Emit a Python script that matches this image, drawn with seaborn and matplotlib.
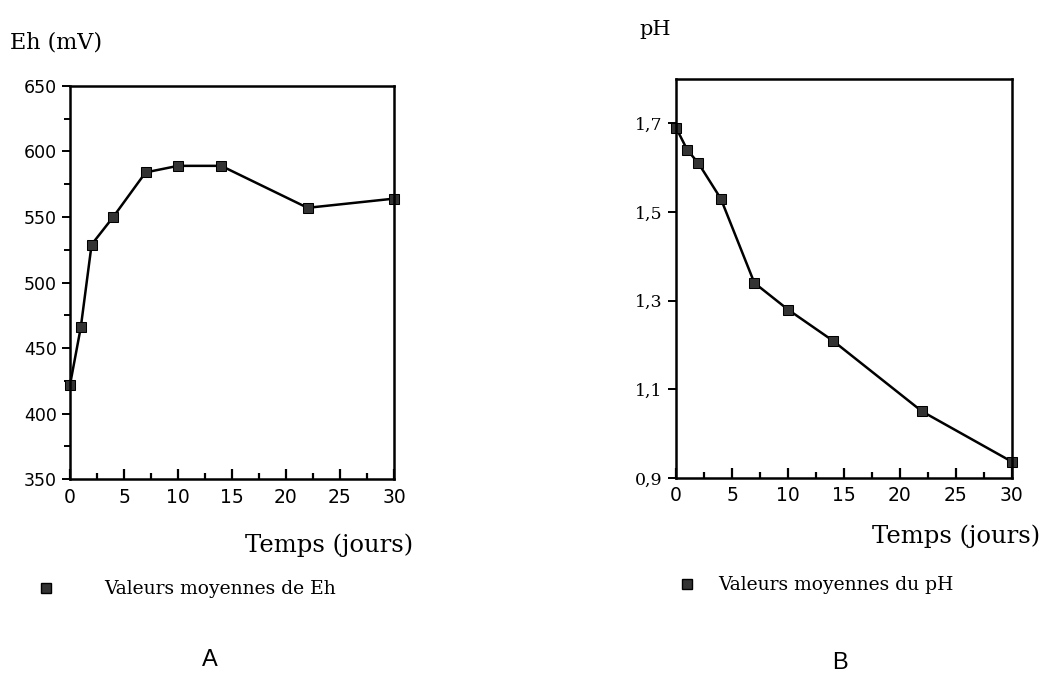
import numpy as np
import pandas as pd
import matplotlib
matplotlib.use("Agg")
import matplotlib.pyplot as plt
from matplotlib.lines import Line2D
from matplotlib.ticker import MultipleLocator, FuncFormatter
import seaborn as sns

# data
jours = [0, 1, 2, 4, 7, 10, 14, 22, 30]
eh_mv = [422, 466, 529, 550, 584, 589, 589, 557, 564]
ph = [1.69, 1.64, 1.61, 1.53, 1.34, 1.28, 1.21, 1.05, 0.937]

eh_ticks = [350, 400, 450, 500, 550, 600, 650]
ph_ticks = [0.9, 1.1, 1.3, 1.5, 1.7]
x_ticks = [0, 5, 10, 15, 20, 25, 30]

df_eh = pd.DataFrame({"jours": jours, "eh": eh_mv})
df_ph = pd.DataFrame({"jours": jours, "ph": ph})

sns.set_style("ticks")
plt.rcParams["font.family"] = ["DejaVu Serif", "Liberation Serif"]
plt.rcParams["text.color"] = "black"
plt.rcParams["xtick.color"] = "black"
plt.rcParams["ytick.color"] = "black"
plt.rcParams["xtick.labelcolor"] = "black"
plt.rcParams["ytick.labelcolor"] = "black"

fig = plt.figure(figsize=(10.45, 6.76), dpi=100)
ax1 = fig.add_axes([0.067, 0.291, 0.310, 0.582])
ax2 = fig.add_axes([0.647, 0.293, 0.321, 0.590])

line_kw = dict(color="black", linewidth=1.8, marker="s", markersize=7,
               markerfacecolor="#333333", markeredgecolor="black", clip_on=False)

sns.lineplot(data=df_eh, x="jours", y="eh", ax=ax1, **line_kw)
sns.lineplot(data=df_ph, x="jours", y="ph", ax=ax2, **line_kw)

for ax in (ax1, ax2):
    ax.set_xlim(0, 30)
    ax.set_xticks(x_ticks)
    ax.xaxis.set_minor_locator(MultipleLocator(2.5))
    ax.tick_params(axis="x", which="major", direction="in", length=7, width=1.6, pad=6)
    ax.tick_params(axis="x", which="minor", direction="in", length=4, width=1.6)
    ax.tick_params(axis="y", which="major", direction="out", length=6, width=1.4)
    ax.set_xlabel("")
    ax.set_ylabel("")
    for s in ax.spines.values():
        s.set_linewidth(1.8)
        s.set_color("black")
    for lab in ax.get_xticklabels():
        lab.set_fontfamily("DejaVu Sans")
        lab.set_fontsize(13.5)

ax1.set_ylim(350, 650)
ax1.set_yticks(eh_ticks)
ax1.yaxis.set_minor_locator(MultipleLocator(25))
ax1.tick_params(axis="y", which="minor", direction="out", length=4, width=1.4)
for lab in ax1.get_yticklabels():
    lab.set_fontfamily("DejaVu Sans")
    lab.set_fontsize(12.5)

ax2.set_ylim(0.9, 1.8)
ax2.set_yticks(ph_ticks)
ax2.yaxis.set_major_formatter(FuncFormatter(lambda v, p: f"{v:.1f}".replace(".", ",")))
for lab in ax2.get_yticklabels():
    lab.set_fontsize(12.5)

# axis titles
fig.text(0.010, 0.937, "Eh (mV)", fontsize=16, ha="left", va="center")
fig.text(0.612, 0.957, "pH", fontsize=15, ha="left", va="center")
fig.text(0.395, 0.194, "Temps (jours)", fontsize=17.5, ha="right", va="center")
fig.text(0.995, 0.207, "Temps (jours)", fontsize=17.5, ha="right", va="center")

# legends
h = Line2D([], [], linestyle="none", marker="s", markersize=7,
           markerfacecolor="#333333", markeredgecolor="black")
fig.legend([h], ["Valeurs moyennes de Eh"], loc="center left",
           bbox_to_anchor=(0.019, 0.128), frameon=False, fontsize=13.5,
           handletextpad=2.6, handlelength=1.0)
fig.legend([h], ["Valeurs moyennes du pH"], loc="center left",
           bbox_to_anchor=(0.632, 0.134), frameon=False, fontsize=13.5,
           handletextpad=1.2, handlelength=1.0)

fig.text(0.201, 0.023, "A", fontsize=17, family="Liberation Sans", ha="center", va="center")
fig.text(0.804, 0.019, "B", fontsize=17, family="Liberation Sans", ha="center", va="center")

fig.savefig("out.png", dpi=100, facecolor="white")
